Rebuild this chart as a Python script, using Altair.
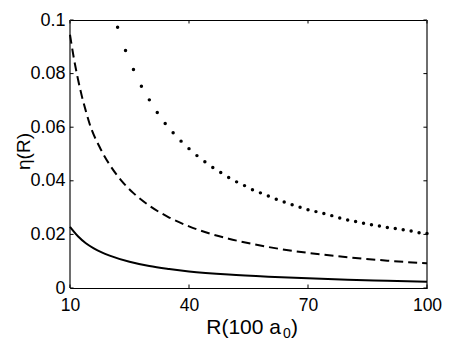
import altair as alt
import pandas as pd

FONT = "Liberation Sans"

# solid curve
solid_R = [10, 12, 14, 16, 18, 20, 25, 30, 35, 40, 50, 60, 70, 80, 90, 100]
solid_eta = [0.0228, 0.0193, 0.0167, 0.0148, 0.0133, 0.0121, 0.0098, 0.0082,
             0.0071, 0.0062, 0.0050, 0.0042, 0.0036, 0.0031, 0.0027, 0.0023]

# dashed curve
dashed_R = [10, 11, 12, 13, 14, 15, 17.5, 20, 23, 26, 30, 35, 40, 45, 50, 60, 70, 80, 90, 100]
dashed_eta = [0.0945, 0.0855, 0.0780, 0.0715, 0.0660, 0.0610, 0.0525, 0.0460, 0.0400,
              0.0354, 0.0307, 0.0263, 0.0230, 0.0204, 0.0184, 0.0153, 0.0131, 0.0115,
              0.0102, 0.0092]

# dotted curve (markers)
dotted_R = [22, 24, 26, 28, 30, 32, 34, 36, 38, 40, 42, 44, 46, 48, 50, 52, 54, 56, 58,
            60, 62, 64, 66, 68, 70, 72, 74, 76, 78, 80, 82, 84, 86, 88, 90, 92, 94, 96,
            98, 100]
dotted_eta = [0.0973, 0.0886, 0.0815, 0.0753, 0.0702, 0.0655, 0.0614, 0.0579, 0.0548,
              0.0520, 0.0494, 0.0471, 0.0450, 0.0431, 0.0412, 0.0396, 0.0382, 0.0367,
              0.0355, 0.0343, 0.0331, 0.0321, 0.0311, 0.0301, 0.0292, 0.0285, 0.0278,
              0.0270, 0.0261, 0.0254, 0.0248, 0.0242, 0.0236, 0.0231, 0.0226, 0.0222,
              0.0217, 0.0213, 0.0206, 0.0203]

x_ticks = [10, 40, 70, 100]
y_ticks = [0, 0.02, 0.04, 0.06, 0.08, 0.1]

x_title_main = "R(100 a"
x_title_sub = "0"
x_title_end = ")"
y_title = "\u03b7(R)"

xs = alt.Scale(domain=[10, 100], nice=False, zero=False)
ys = alt.Scale(domain=[0, 0.1], nice=False, zero=False)

xax = alt.Axis(values=x_ticks, title=None, labelFontSize=17.5, labelPadding=8,
               labelFont=FONT, labelColor="black", labelFlush=False,
               ticks=False, domain=False, grid=False)
yax = alt.Axis(values=y_ticks, format=".2~f", title=y_title, labelFontSize=18,
               titleFontSize=19, labelPadding=5, labelFont=FONT,
               titleFont=FONT, labelColor="black", titleColor="black",
               titleFontWeight="normal", labelFlush=False,
               titleX=-41, titleY=131, titleAngle=270, titleAlign="center",
               titleBaseline="alphabetic",
               ticks=False, domain=False, grid=False)

solid_df = pd.DataFrame({"R": solid_R, "eta": solid_eta})
dashed_df = pd.DataFrame({"R": dashed_R, "eta": dashed_eta})
dotted_df = pd.DataFrame({"R": dotted_R, "eta": dotted_eta})

solid = alt.Chart(solid_df).mark_line(color="black", strokeWidth=2, interpolate="monotone").encode(
    x=alt.X("R:Q", scale=xs, axis=xax), y=alt.Y("eta:Q", scale=ys, axis=yax))
dashed = alt.Chart(dashed_df).mark_line(color="black", strokeWidth=2, strokeDash=[9, 5],
                                        interpolate="monotone").encode(
    x=alt.X("R:Q", scale=xs), y=alt.Y("eta:Q", scale=ys))
dotted = alt.Chart(dotted_df).mark_circle(color="black", size=12, opacity=1).encode(
    x=alt.X("R:Q", scale=xs), y=alt.Y("eta:Q", scale=ys))

tx = 0.9
ty = 0.0013
tick_rows = []
for v in x_ticks:
    tick_rows.append({"x": v, "x2": v, "y": 0, "y2": ty})
    tick_rows.append({"x": v, "x2": v, "y": 0.1, "y2": 0.1 - ty})
for v in y_ticks:
    tick_rows.append({"x": 10, "x2": 10 + tx, "y": v, "y2": v})
    tick_rows.append({"x": 100, "x2": 100 - tx, "y": v, "y2": v})
ticks = alt.Chart(pd.DataFrame(tick_rows)).mark_rule(color="black", strokeWidth=1).encode(
    x=alt.X("x:Q", scale=xs), x2="x2:Q", y=alt.Y("y:Q", scale=ys), y2="y2:Q")

side_df = pd.DataFrame({"x": [10, 100], "y": [0, 0], "y2": [0.1, 0.1]})
sides = alt.Chart(side_df).mark_rule(color="#6e6e6e", strokeWidth=2).encode(
    x=alt.X("x:Q", scale=xs), y=alt.Y("y:Q", scale=ys), y2="y2:Q")

t_main = alt.Chart(pd.DataFrame({"t": [x_title_main]})).mark_text(
    font=FONT, fontSize=21, align="right", baseline="alphabetic", color="black").encode(
    text="t:N", x=alt.value(211), y=alt.value(314))
t_sub = alt.Chart(pd.DataFrame({"t": [x_title_sub]})).mark_text(
    font=FONT, fontSize=14, align="left", baseline="alphabetic", color="black").encode(
    text="t:N", x=alt.value(213), y=alt.value(318))
t_end = alt.Chart(pd.DataFrame({"t": [x_title_end]})).mark_text(
    font=FONT, fontSize=21, align="left", baseline="alphabetic", color="black").encode(
    text="t:N", x=alt.value(221), y=alt.value(314))

chart = alt.layer(sides, ticks, solid, dashed, dotted, t_main, t_sub, t_end).properties(
    width=357, height=268,
    autosize=alt.AutoSizeParams(type="none"),
    padding={"left": 62, "top": 12, "right": 15, "bottom": 53},
).configure(background="white").configure_view(stroke="black", strokeWidth=1)

chart.save("out.html", embed_options={"renderer": "svg", "actions": False})
